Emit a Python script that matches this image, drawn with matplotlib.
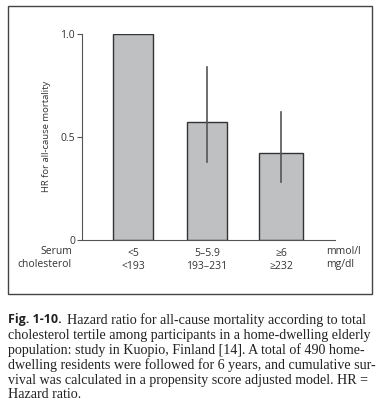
import matplotlib.pyplot as plt
from matplotlib.patches import Rectangle
from matplotlib.transforms import blended_transform_factory

# data
groups_mmol = ['<5', '5\u20135.9', '\u22656']
groups_mgdl = ['<193', '193\u2013231', '\u2265232']
hr = [1.0, 0.57, 0.42]
ci_low = [None, 0.38, 0.28]
ci_high = [None, 0.84, 0.62]
bar_widths = [0.55, 0.55, 0.6]
yticks = [0, 0.5, 1.0]
yticklabels = ['0', '0.5', '1.0']

caption_rest = ("Hazard ratio for all-cause mortality according to total")
caption_lines = ("cholesterol tertile among participants in a home-dwelling elderly\n"
                 "population: study in Kuopio, Finland [14]. A total of 490 home-\n"
                 "dwelling residents were followed for 6 years, and cumulative sur-\n"
                 "vival was calculated in a propensity score adjusted model. HR =\n"
                 "Hazard ratio.")

txt = '#333333'
sans = ['Open Sans', 'DejaVu Sans']
serif = ['Liberation Serif', 'DejaVu Serif']

fig = plt.figure(figsize=(3.88, 4.12), dpi=100)
ax = fig.add_axes([82.3/388, 1 - 240/412, (335 - 82.3)/388, (240 - 33.7)/412])

x = list(range(len(hr)))
ax.bar(x, hr, width=bar_widths, color='#bfc0c2', edgecolor='#333333', linewidth=1.0, zorder=2)
for xi, h, lo, hi in zip(x, hr, ci_low, ci_high):
    if lo is not None:
        ax.plot([xi, xi], [lo, hi], color='#555555', lw=1.2, zorder=3)

ax.set_xlim(-0.685, 2.73)
ax.set_ylim(0, 1.0)
ax.set_yticks(yticks)
ax.set_yticklabels(yticklabels, fontsize=7.5, color=txt, family=sans)
ax.tick_params(axis='y', length=3.3, width=0.8, color='#555555', pad=2)
ax.set_xticks(x)
ax.set_xticklabels([a + '\n' + b for a, b in zip(groups_mmol, groups_mgdl)],
                   fontsize=7.5, color=txt, family=sans, linespacing=1.25)
ax.tick_params(axis='x', length=0, pad=6)
for s in ['top', 'right']:
    ax.spines[s].set_visible(False)
for s in ['left', 'bottom']:
    ax.spines[s].set_color('#555555')
    ax.spines[s].set_linewidth(0.8)

ax.set_ylabel('HR for all-cause mortality', fontsize=6.8, color=txt, family=sans, labelpad=7)

tr = blended_transform_factory(fig.transFigure, ax.transAxes)
yoff = -6 / (240 - 33.7)
ax.text(72/388, yoff, 'Serum\ncholesterol', transform=tr, ha='right', va='top',
        fontsize=7.5, color=txt, family=sans, linespacing=1.25)
ax.text(326/388, yoff, 'mmol/l\nmg/dl', transform=tr, ha='left', va='top',
        fontsize=7.5, color=txt, family=sans, linespacing=1.25)

fig.patches.append(Rectangle((8/388, 1 - 294/412), (372 - 8)/388, (294 - 6)/412,
                             transform=fig.transFigure, fill=False,
                             edgecolor='#444444', linewidth=1.0))

fig.text(8/388, 1 - 320/412, 'Fig. 1-10.', fontsize=9.0, fontweight='bold',
         family=sans, color='#222222', va='center')
fig.text(67/388, 1 - 320/412, caption_rest, fontsize=10.1, family=serif,
         color='#222222', va='center')
fig.text(8/388, 1 - 328.5/412, caption_lines, fontsize=10.1, family=serif,
         color='#222222', va='top', linespacing=1.15)

fig.savefig('out.png', dpi=100)
